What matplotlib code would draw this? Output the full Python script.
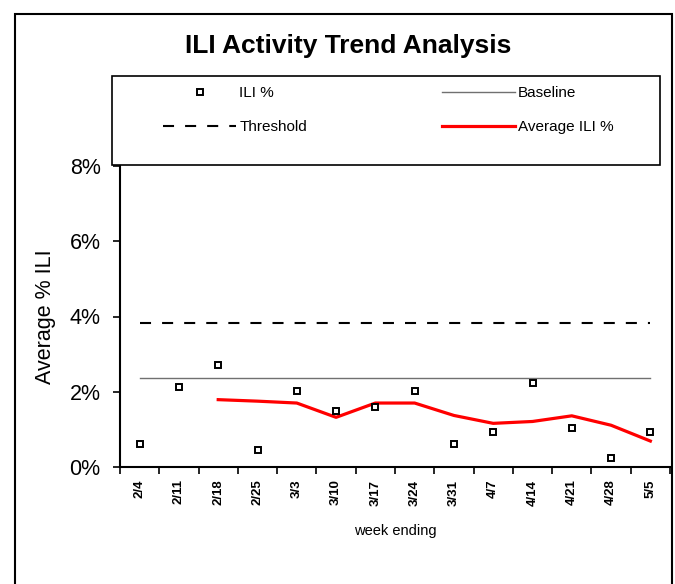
import matplotlib.pyplot as plt
from matplotlib.lines import Line2D
from matplotlib.patches import Rectangle
from matplotlib.ticker import FuncFormatter

plt.rcParams['font.family'] = ['Liberation Sans', 'DejaVu Sans']

# Data
weeks = ["2/4", "2/11", "2/18", "2/25", "3/3", "3/10", "3/17", "3/24",
         "3/31", "4/7", "4/14", "4/21", "4/28", "5/5"]
ili_pct = [0.60, 2.13, 2.71, 0.44, 2.03, 1.50, 1.59, 2.03,
           0.60, 0.92, 2.24, 1.03, 0.23, 0.92]
baseline = [2.37] * 14
threshold = [3.82] * 14
avg_ili = [None, None, 1.79, 1.75, 1.70, 1.32, 1.70, 1.70,
           1.37, 1.16, 1.21, 1.36, 1.11, 0.69]

fig = plt.figure(figsize=(6.75, 5.84), dpi=100)
ax = fig.add_axes([120 / 675, 1 - 467 / 584, 550 / 675, 301 / 584])

dash = (5.3, 5.3)
x = list(range(len(weeks)))
ax.plot(x, baseline, color="#707070", lw=1.0)
ax.plot(x, threshold, color="black", lw=1.5, dashes=dash)
avg_x = [i for i, v in zip(x, avg_ili) if v is not None]
avg_y = [v for v in avg_ili if v is not None]
ax.plot(avg_x, avg_y, color="#ff0000", lw=2.3)
ax.plot(x, ili_pct, ls="none", marker="s", ms=5, mfc="white",
        mec="black", mew=1.4)

ax.set_xlim(-0.5, len(weeks) - 0.5)
ax.set_ylim(0, 8)
ax.set_yticks([0, 2, 4, 6, 8])
ax.yaxis.set_major_formatter(FuncFormatter(lambda v, p: f"{v:.0f}%"))
ax.tick_params(axis="y", labelsize=15.5, length=5, width=1.2, pad=9)
ax.set_xticks([i - 0.5 for i in range(len(weeks) + 1)])
ax.set_xticklabels([])
ax.set_xticks(x, minor=True)
ax.set_xticklabels(weeks, minor=True, rotation=90, fontsize=9.5,
                   fontweight="bold")
ax.tick_params(axis="x", which="major", length=5, width=1.2)
ax.tick_params(axis="x", which="minor", length=0, pad=9)
for s in ["top", "right"]:
    ax.spines[s].set_visible(False)
ax.spines["left"].set_linewidth(1.5)
ax.spines["bottom"].set_linewidth(1.5)
ax.set_ylabel("Average % ILI", fontsize=15.5, labelpad=10)
ax.set_xlabel("week ending", fontsize=10.5, labelpad=13)

# outer frame and title
fig.patches.append(Rectangle((15 / 675, -0.05), 657 / 675, 1 - 14 / 584 + 0.05,
                             transform=fig.transFigure, fill=False,
                             ec="black", lw=1.5))
fig.text(348 / 675, 1 - 46 / 584, "ILI Activity Trend Analysis",
         ha="center", va="center", fontsize=19, fontweight="bold")

# legend box
fig.patches.append(Rectangle((112 / 675, 1 - 165 / 584), 548 / 675, 89 / 584,
                             transform=fig.transFigure, fill=False,
                             ec="black", lw=1.2))
handles = [
    Line2D([], [], ls="none", marker="s", ms=5, mfc="white", mec="black", mew=1.4),
    Line2D([], [], color="black", lw=1.5, dashes=dash),
    Line2D([], [], color="#707070", lw=1.0),
    Line2D([], [], color="#ff0000", lw=2.3),
]
labels = ["ILI %", "Threshold", "Baseline", "Average ILI %"]
fig.legend(handles, labels, ncol=2, frameon=False, loc="upper left",
           bbox_to_anchor=(163 / 675, 1 - 86 / 584), borderpad=0,
           borderaxespad=0, fontsize=11, handlelength=4.8,
           handletextpad=0.2, labelspacing=1.3, columnspacing=8.8)

plt.savefig("out.png", dpi=100)
